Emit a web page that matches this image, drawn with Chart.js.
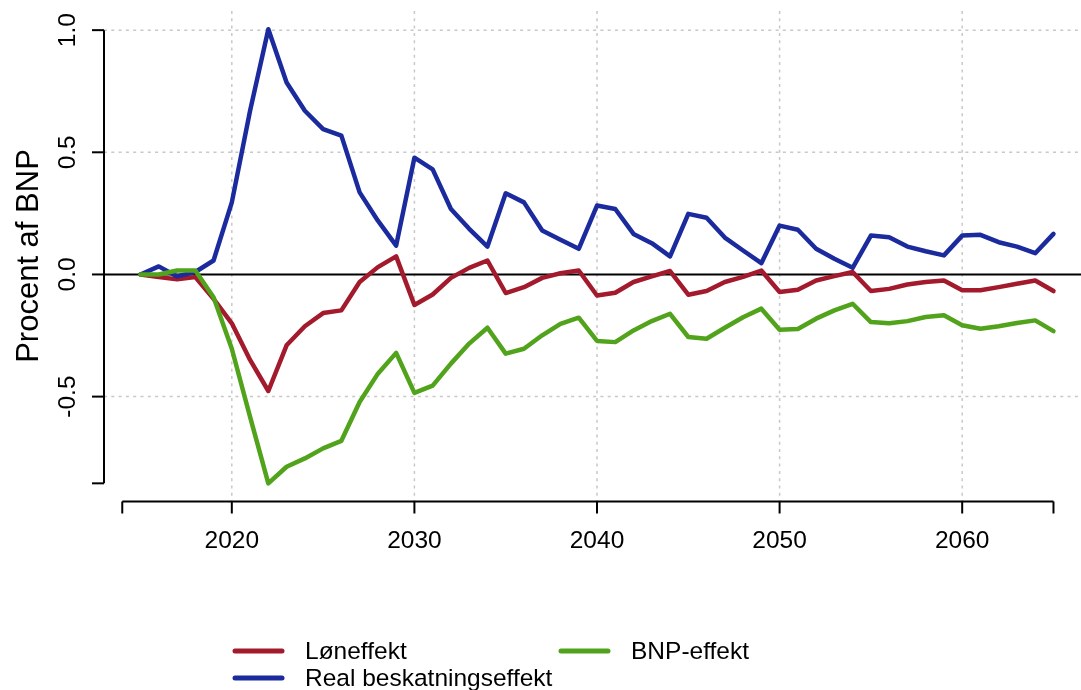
<!DOCTYPE html>
<html>
<head>
<meta charset="utf-8">
<script src="https://cdn.jsdelivr.net/npm/chart.js@4.4.1/dist/chart.umd.min.js"></script>
<style>
html,body{margin:0;padding:0;background:#ffffff;overflow:hidden}
canvas{display:block}
</style>
</head>
<body>
<canvas id="c" width="1081" height="690"></canvas>
<script>
// ---------- DATA ----------
const years = [2015,2016,2017,2018,2019,2020,2021,2022,2023,2024,2025,2026,2027,2028,2029,2030,
  2031,2032,2033,2034,2035,2036,2037,2038,2039,2040,2041,2042,2043,2044,2045,2046,2047,2048,2049,2050,
  2051,2052,2053,2054,2055,2056,2057,2058,2059,2060,2061,2062,2063,2064,2065];

const loneffekt = [0.000,-0.011,-0.020,-0.011,-0.100,-0.200,-0.350,-0.477,-0.290,-0.212,-0.158,-0.147,-0.031,0.030,0.074,-0.125,
  -0.082,-0.014,0.027,0.057,-0.076,-0.052,-0.014,0.005,0.016,-0.086,-0.075,-0.031,-0.008,0.014,-0.083,-0.068,-0.031,-0.010,0.016,-0.072,
  -0.063,-0.025,-0.007,0.010,-0.068,-0.059,-0.041,-0.031,-0.025,-0.065,-0.065,-0.052,-0.038,-0.025,-0.068];

const realBeskatning = [0.000,0.033,-0.008,0.010,0.057,0.295,0.670,1.004,0.786,0.670,0.595,0.568,0.336,0.220,0.118,0.478,
  0.430,0.268,0.187,0.114,0.332,0.295,0.180,0.142,0.105,0.282,0.268,0.166,0.128,0.074,0.248,0.232,0.151,0.098,0.046,0.200,
  0.183,0.105,0.064,0.027,0.159,0.152,0.114,0.095,0.078,0.159,0.162,0.132,0.114,0.087,0.166];

const bnpEffekt = [0.000,0.000,0.016,0.016,-0.093,-0.304,-0.583,-0.855,-0.787,-0.753,-0.712,-0.681,-0.522,-0.406,-0.321,-0.485,
  -0.455,-0.365,-0.283,-0.218,-0.324,-0.304,-0.249,-0.202,-0.177,-0.272,-0.277,-0.229,-0.191,-0.161,-0.256,-0.263,-0.218,-0.175,-0.140,-0.226,
  -0.223,-0.181,-0.147,-0.120,-0.195,-0.200,-0.191,-0.174,-0.167,-0.208,-0.222,-0.212,-0.199,-0.188,-0.232];

const seriesLabels = ['Løneffekt', 'Real beskatningseffekt', 'BNP-effekt'];
const xTickLabels = [2020, 2030, 2040, 2050, 2060];
const xAxisEnds = [2014, 2065];
const yTickLabels = [-0.5, 0.0, 0.5, 1.0];
const yTitle = 'Procent af BNP';

// ---------- STYLE ----------
const colors = ['#A31A2D', '#1B2B9E', '#50A31A'];
const FONT = '"Liberation Sans", Arial, sans-serif';

const allVals = loneffekt.concat(realBeskatning, bnpEffekt);
const dMin = Math.min(...allVals), dMax = Math.max(...allVals);
const yExt = (dMax - dMin) * 0.04;
const xExt = (years[years.length - 1] - years[0]) * 0.04;
// plot region continues past the right edge of the picture
const pxPerYear = (1081 + 9 - 104) / ((years[years.length - 1] + xExt) - (years[0] - xExt));
const xMaxVisible = (years[0] - xExt) + (1081 - 104) / pxPerYear;

function pts(arr) { return years.map((yr, i) => ({x: yr, y: arr[i]})); }

const rPlot = {
  id: 'rPlot',
  beforeDatasetsDraw(chart) {
    const {ctx, chartArea: a, scales: {x, y}} = chart;
    ctx.save();
    ctx.strokeStyle = '#c8c8c8';
    ctx.lineWidth = 1.5;
    ctx.setLineDash([3, 4.3]);
    xTickLabels.forEach(v => {
      const px = x.getPixelForValue(v);
      ctx.beginPath(); ctx.moveTo(px, a.top); ctx.lineTo(px, a.bottom); ctx.stroke();
    });
    yTickLabels.filter(v => v !== 0).forEach(v => {
      const py = y.getPixelForValue(v);
      ctx.beginPath(); ctx.moveTo(a.left, py); ctx.lineTo(a.right, py); ctx.stroke();
    });
    ctx.setLineDash([]);
    ctx.strokeStyle = '#000';
    ctx.lineWidth = 2;
    const p0 = y.getPixelForValue(0);
    ctx.beginPath(); ctx.moveTo(a.left, p0); ctx.lineTo(a.right, p0); ctx.stroke();
    ctx.restore();
  },
  afterDraw(chart) {
    const {ctx, chartArea: a, scales: {x, y}} = chart;
    ctx.save();
    ctx.strokeStyle = '#000';
    ctx.fillStyle = '#000';
    ctx.lineWidth = 2;
    ctx.lineCap = 'butt';
    // x axis
    const xb = a.bottom;
    const xl = x.getPixelForValue(xAxisEnds[0]), xr = x.getPixelForValue(xAxisEnds[1]);
    ctx.beginPath(); ctx.moveTo(xl, xb); ctx.lineTo(xr, xb); ctx.stroke();
    const xt = [xAxisEnds[0]].concat(xTickLabels, [xAxisEnds[1]]);
    xt.forEach(v => {
      const px = x.getPixelForValue(v);
      ctx.beginPath(); ctx.moveTo(px, xb); ctx.lineTo(px, xb + 12); ctx.stroke();
    });
    ctx.font = '24.5px ' + FONT;
    ctx.textAlign = 'center';
    ctx.textBaseline = 'alphabetic';
    xTickLabels.forEach(v => ctx.fillText(String(v), x.getPixelForValue(v), 548));
    // y axis
    const yl = a.left;
    const yTop = y.getPixelForValue(yTickLabels[yTickLabels.length - 1]);
    const yBot = y.getPixelForValue(dMin);
    ctx.beginPath(); ctx.moveTo(yl, yBot); ctx.lineTo(yl, yTop); ctx.stroke();
    [dMin].concat(yTickLabels).forEach(v => {
      const py = y.getPixelForValue(v);
      ctx.beginPath(); ctx.moveTo(yl, py); ctx.lineTo(yl - 12, py); ctx.stroke();
    });
    yTickLabels.forEach(v => {
      const py = y.getPixelForValue(v);
      ctx.save();
      ctx.translate(75, py);
      ctx.rotate(-Math.PI / 2);
      ctx.fillText(v.toFixed(1), 0, 0);
      ctx.restore();
    });
    // y title
    ctx.save();
    ctx.font = '31px ' + FONT;
    ctx.translate(38, 256);
    ctx.rotate(-Math.PI / 2);
    ctx.fillText(yTitle, 0, 0);
    ctx.restore();
    // legend (R style, filled by column)
    const legPos = [
      {lx: 235, tx: 305, y: 651},
      {lx: 235, tx: 305, y: 678},
      {lx: 561, tx: 631, y: 651}
    ];
    ctx.font = '24.5px ' + FONT;
    ctx.textAlign = 'left';
    ctx.textBaseline = 'middle';
    ctx.lineCap = 'round';
    ctx.lineWidth = 5;
    seriesLabels.forEach((lab, i) => {
      const p = legPos[i];
      ctx.strokeStyle = colors[i];
      ctx.beginPath(); ctx.moveTo(p.lx, p.y); ctx.lineTo(p.lx + 47, p.y); ctx.stroke();
      ctx.fillStyle = '#000';
      ctx.fillText(lab, p.tx, p.y + 1);
    });
    ctx.restore();
  }
};

const series = [loneffekt, realBeskatning, bnpEffekt];
new Chart(document.getElementById('c'), {
  type: 'line',
  data: {
    datasets: series.map((s, i) => ({
      label: seriesLabels[i],
      data: pts(s),
      borderColor: colors[i],
      backgroundColor: colors[i],
      borderWidth: 4.5,
      pointRadius: 0,
      tension: 0,
      fill: false,
      borderJoinStyle: 'round',
      borderCapStyle: 'round',
      order: 2 - i
    }))
  },
  options: {
    responsive: false,
    animation: false,
    devicePixelRatio: 1,
    layout: {padding: {left: 104, top: 0, right: 0, bottom: 0}},
    scales: {
      x: {type: 'linear', display: false, min: years[0] - xExt, max: xMaxVisible},
      y: {type: 'linear', display: false, min: dMin - yExt, max: dMax + yExt}
    },
    plugins: {legend: {display: false}, tooltip: {enabled: false}},
    events: []
  },
  plugins: [rPlot, {
    id: 'fixArea',
    beforeLayout(chart) {
      chart.options.layout.padding = {left: 104, top: 11, right: 0, bottom: 690 - 501.5};
    }
  }]
});
</script>
</body>
</html>
